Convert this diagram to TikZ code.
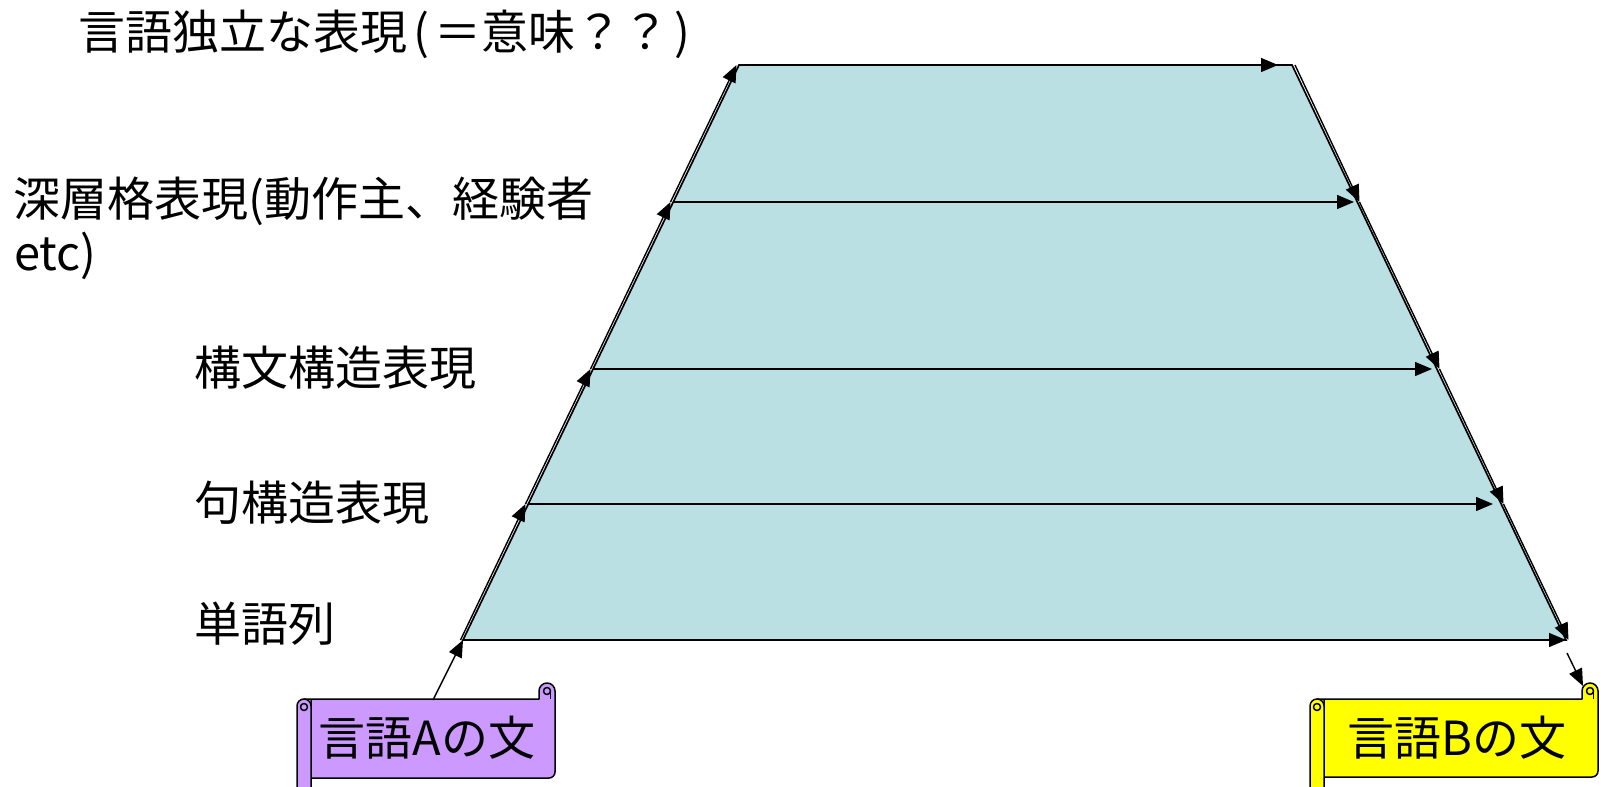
\documentclass[tikz,border=0pt]{standalone}
\usepackage{fontspec}
\setmainfont{Noto Sans CJK JP}
\usetikzlibrary{arrows.meta}
\definecolor{trap}{RGB}{186,224,228}
\definecolor{scrA}{RGB}{204,153,255}
\definecolor{scrB}{RGB}{255,255,0}
\newcommand\myscroll[5]{%
  \filldraw[scrollline, fill=#5] ({#1+7},#3) -- ({#2-16},#3) -- ({#2-16},{#3-8})
    arc[start angle=180,end angle=360,radius=8] -- ({#2},{#4-6})
    arc[start angle=0,end angle=90,radius=6] -- ({#1+14},{#4}) -- ({#1+14},{#3}) -- cycle;
  \draw[scrollline] ({#2-8},{#3-8}) circle[radius=3.5];
  \draw[scrollline] ({#2-4.5},{#3-8}) -- ({#2-4.5},{#3});
  \filldraw[scrollline, fill=#5] (#1,800) -- (#1,{#3+7})
    arc[start angle=180,end angle=360,radius=7] -- ({#1+14},800);
  \draw[scrollline] ({#1+7},{#3+8}) circle[radius=3.5];
}
\begin{document}
\begin{tikzpicture}[x=1pt,y=-1pt,
  lbl/.style={anchor=west, inner sep=0pt, font=\fontsize{47}{56}\selectfont},
  scrtext/.style={inner sep=0pt, font=\fontsize{47}{56}\selectfont},
  scrollline/.style={line width=1.5pt, line join=round},
  edge/.style={line width=1.7pt},
  arr/.style={-{Triangle[length=17pt,width=14pt]}, line width=1.4pt}]
\useasboundingbox (0,0) rectangle (1601,787);

% corners
\coordinate (L1) at (739,65);
\coordinate (L2) at (673,202);
\coordinate (L3) at (593,369);
\coordinate (L4) at (528,504);
\coordinate (L5) at (463,640);
\coordinate (R1) at (1292,65);
\coordinate (R2) at (1357,202);
\coordinate (R3) at (1437,369);
\coordinate (R4) at (1501,504);
\coordinate (R5) at (1566,640);

% trapezoid
\filldraw[edge, fill=trap] (L1) -- (R1) -- (R5) -- (L5) -- cycle;

% labels
\node[lbl] (t1) at (78,34) {言語独立な表現\kern6pt(\kern5pt＝意味？？\kern5pt)};
\node[lbl] (t2) at (13,201) {深層格表現(動作主、経験者};
\node[lbl] (t2b) at (14,256) {etc)};
\node[lbl] (t3) at (194,368) {構文構造表現};
\node[lbl] (t4) at (194,503) {句構造表現};
\node[lbl] (t5) at (194,624) {単語列};

% horizontal arrows
\draw[arr] (L1) -- ([xshift=-14pt]R1);
\draw[arr] (L2) -- ([xshift=-3pt]R2);
\draw[arr] (L3) -- ([xshift=-5pt]R3);
\draw[arr] (L4) -- ([xshift=-8pt]R4);
\draw[arr] (L5) -- (R5);

% left side up arrows
\draw[arr] ([xshift=-2.5pt]L5) -- ([xshift=-2.5pt]L4);
\draw[arr] ([xshift=-2.5pt]L4) -- ([xshift=-2.5pt]L3);
\draw[arr] ([xshift=-2.5pt]L3) -- ([xshift=-2.5pt]L2);
\draw[arr] ([xshift=-2.5pt]L2) -- ([xshift=-2.5pt]L1);

% right side down arrows
\draw[arr] ([xshift=3pt]R1) -- ([xshift=2.5pt]R2);
\draw[arr] ([xshift=2.5pt]R2) -- ([xshift=2.5pt]R3);
\draw[arr] ([xshift=2.5pt]R3) -- ([xshift=2.5pt]R4);
\draw[arr] ([xshift=2.5pt]R4) -- ([xshift=2.5pt]R5);

% scrolls
\myscroll{297}{555}{699}{778}{scrA}
\myscroll{1310}{1598}{699}{777}{scrB}
\node[scrtext] (sa) at (427,738) {言語Aの文};
\node[scrtext] (sb) at (1457,738) {言語Bの文};

% connectors to scrolls
\coordinate (aTop) at (433,700);
\coordinate (bStart) at (1567,653);
\coordinate (bEnd) at (1583,686);
\draw[arr] (aTop) -- (L5);
\draw[arr] (bStart) -- (bEnd);
\end{tikzpicture}
\end{document}
